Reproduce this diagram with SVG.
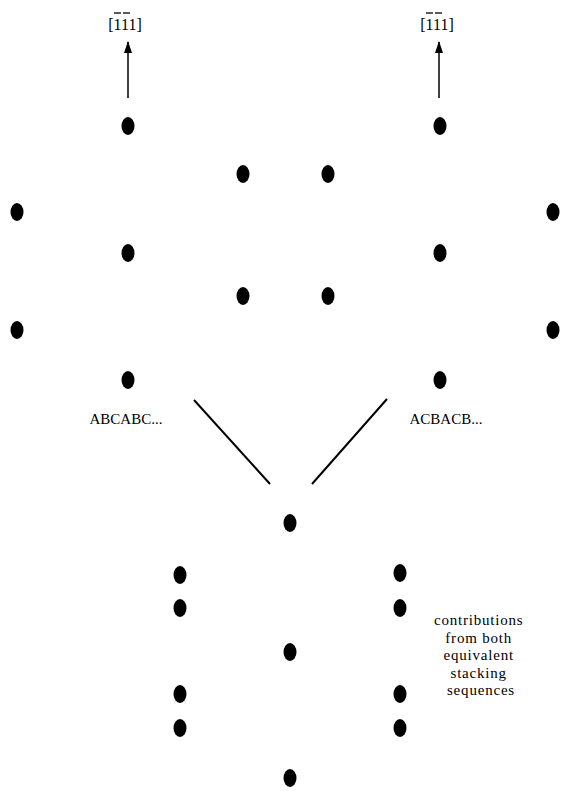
<svg xmlns="http://www.w3.org/2000/svg" width="561" height="791" viewBox="0 0 561 791">
<style>
.d{fill:#000}
.t{font-family:"Liberation Serif","DejaVu Serif",serif;font-size:15px;fill:#000}
.s{letter-spacing:0.8px}
.m{font-size:16px}
.c{stroke:#000;stroke-width:2;fill:none}
.a{stroke:#000;stroke-width:1.5;fill:none}
.b{stroke:#000;stroke-width:1.3}
</style>
<defs>
<marker id="ah" viewBox="0 0 12 8" refX="11" refY="4" markerWidth="12" markerHeight="8" orient="auto" markerUnits="userSpaceOnUse">
<path d="M0,0 L12,4 L0,8 z" fill="#000"/>
</marker>
</defs>
<rect width="561" height="791" fill="#fff"/>
<g id="connectors">
<line class="a" x1="128" y1="98" x2="128" y2="42" marker-end="url(#ah)"/>
<line class="a" x1="439" y1="98" x2="439" y2="42" marker-end="url(#ah)"/>
<line class="c" x1="194" y1="400" x2="270" y2="484"/>
<line class="c" x1="387" y1="399" x2="312" y2="484"/>
</g>
<g id="label-left-dir">
<text class="t m" x="125" y="30" text-anchor="middle">[111]</text>
<line class="b" x1="114" y1="13" x2="121" y2="13"/>
<line class="b" x1="123" y1="13" x2="130" y2="13"/>
</g>
<g id="label-right-dir">
<text class="t m" x="437" y="30" text-anchor="middle">[111]</text>
<line class="b" x1="426" y1="13" x2="433" y2="13"/>
<line class="b" x1="435" y1="13" x2="442" y2="13"/>
</g>
<g id="left-lattice">
<ellipse class="d" cx="128" cy="126" rx="6.5" ry="9"/>
<ellipse class="d" cx="128" cy="253" rx="6.5" ry="9"/>
<ellipse class="d" cx="128" cy="380" rx="6.5" ry="9"/>
<ellipse class="d" cx="17" cy="212" rx="6.5" ry="9"/>
<ellipse class="d" cx="17" cy="330" rx="6.5" ry="9"/>
</g>
<g id="middle-lattice">
<ellipse class="d" cx="243" cy="174" rx="6.5" ry="9"/>
<ellipse class="d" cx="328" cy="174" rx="6.5" ry="9"/>
<ellipse class="d" cx="243" cy="296" rx="6.5" ry="9"/>
<ellipse class="d" cx="328" cy="296" rx="6.5" ry="9"/>
</g>
<g id="right-lattice">
<ellipse class="d" cx="440" cy="126" rx="6.5" ry="9"/>
<ellipse class="d" cx="440" cy="253" rx="6.5" ry="9"/>
<ellipse class="d" cx="440" cy="380" rx="6.5" ry="9"/>
<ellipse class="d" cx="553" cy="212" rx="6.5" ry="9"/>
<ellipse class="d" cx="553" cy="330" rx="6.5" ry="9"/>
</g>
<g id="label-abc">
<text class="t" x="126" y="424" text-anchor="middle">ABCABC...</text>
</g>
<g id="label-acb">
<text class="t" x="446" y="424" text-anchor="middle">ACBACB...</text>
</g>
<g id="combined-lattice">
<ellipse class="d" cx="290" cy="523" rx="6.5" ry="9"/>
<ellipse class="d" cx="290" cy="652" rx="6.5" ry="9"/>
<ellipse class="d" cx="290" cy="778" rx="6.5" ry="9"/>
<ellipse class="d" cx="180" cy="575" rx="6.5" ry="9"/>
<ellipse class="d" cx="180" cy="608" rx="6.5" ry="9"/>
<ellipse class="d" cx="180" cy="694" rx="6.5" ry="9"/>
<ellipse class="d" cx="180" cy="728" rx="6.5" ry="9"/>
<ellipse class="d" cx="400" cy="573" rx="6.5" ry="9"/>
<ellipse class="d" cx="400" cy="608" rx="6.5" ry="9"/>
<ellipse class="d" cx="400" cy="694" rx="6.5" ry="9"/>
<ellipse class="d" cx="400" cy="728" rx="6.5" ry="9"/>
</g>
<g id="label-contrib">
<text class="t s" text-anchor="middle">
<tspan x="481" y="625">contributions</tspan>
<tspan x="481" y="642.5">from both</tspan>
<tspan x="481" y="660">equivalent</tspan>
<tspan x="481" y="677.5">stacking</tspan>
<tspan x="481" y="695">sequences</tspan>
</text>
</g>
</svg>
